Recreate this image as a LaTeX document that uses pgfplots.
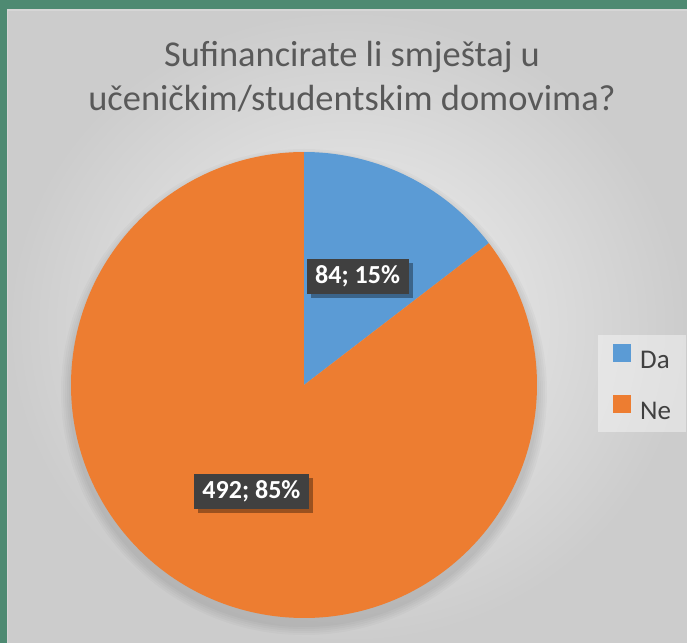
\documentclass[border=0pt]{standalone}
\usepackage{fontspec}
\setmainfont{Carlito}
\usepackage{pgfplots}
\usepackage{pgfplotstable}
\pgfplotsset{compat=1.18}
\usetikzlibrary{shadows}

\definecolor{frame}{HTML}{4E8A72}
\definecolor{daBlue}{HTML}{5B9BD5}
\definecolor{neOrange}{HTML}{ED7D31}
\definecolor{lblBg}{HTML}{404040}
\definecolor{titleGray}{HTML}{595959}

% broj odgovora
\pgfplotstableread{
odgovor broj
Da 84
Ne 492
}\piedata

\pgfplotstablegetelem{0}{broj}\of\piedata \let\vda\pgfplotsretval
\pgfplotstablegetelem{1}{broj}\of\piedata \let\vne\pgfplotsretval
\pgfmathsetmacro\total{\vda+\vne}
\pgfmathsetmacro\fda{\vda/\total}
\pgfmathsetmacro\angda{90-360*\fda}
\pgfmathsetmacro\midda{(90+\angda)/2}
\pgfmathsetmacro\midne{(\angda-270)/2}
\pgfmathtruncatemacro\pda{round(100*\fda)}
\pgfmathtruncatemacro\pne{100-\pda}

\tikzset{lbl/.style={fill=lblBg, text=white, font=\bfseries\fontsize{13}{15}\selectfont,
  inner xsep=4.3pt, inner ysep=0pt, minimum height=17.5pt,
  drop shadow={shadow xshift=2pt, shadow yshift=-2pt, opacity=0.35, fill=black}}}

\begin{document}
\begin{tikzpicture}
% okvir i pozadina
\fill[frame] (0,0) rectangle (343.5pt,-321.5pt);
\shade[inner color=white!95!black, outer color=white!80!black] (3.7pt,-5pt) rectangle (343.5pt,-321.5pt);
\draw[white!84!black, line width=0.6pt] (3.7pt,-321.5pt) -- (3.7pt,-5pt) -- (343.5pt,-5pt);

\node[anchor=base, text=titleGray, font=\fontsize{18.2}{22}\selectfont] at (176pt,-33pt) {Sufinancirate li smještaj u};
\node[anchor=base, text=titleGray, font=\fontsize{18.2}{22}\selectfont] at (176pt,-55pt) {učeničkim/studentskim domovima?};

\begin{axis}[
  at={(152pt,-192.5pt)}, anchor=center,
  scale only axis, width=233pt, height=233pt,
  xmin=-1, xmax=1, ymin=-1, ymax=1,
  hide axis, clip=false,
  legend style={at={(1.131,0.609)}, anchor=north west, draw=none,
    fill=white, fill opacity=0.4, text opacity=1,
    inner xsep=7.5pt, inner ysep=4.5pt, row sep=12pt, column sep=4.5pt,
    nodes={inner sep=0pt}, font=\fontsize{13.5}{15}\selectfont, text=lblBg},
  legend cell align=left,
  legend image code/.code={\fill[#1, fill opacity=1] (0pt,0pt) rectangle (8.5pt,8.5pt);},
]
\addlegendimage{daBlue}
\addlegendentry{Da}
\addlegendimage{neOrange}
\addlegendentry{Ne}

% meka sjena ispod kruga
\pgfplotsinvokeforeach{1,2,3,4,5}{
  \fill[black, opacity=0.025] (0,-0.03) circle[radius=116.5pt+#1pt];
}

\fill[daBlue] (0,0) -- (0,1) arc[start angle=90, end angle=\angda, radius=116.5pt] -- cycle;
\fill[neOrange] (0,0) -- ({cos(\angda)},{sin(\angda)}) arc[start angle=\angda, end angle=-270, radius=116.5pt] -- cycle;

\node[lbl] at ({0.52*cos(\midda)},{0.52*sin(\midda)}) {\vda; \pda\%};
\node[lbl] at ({0.51*cos(\midne)},{0.51*sin(\midne)}) {\vne; \pne\%};
\end{axis}
\pgfresetboundingbox
\useasboundingbox (0,0) rectangle (343.5pt,-321.5pt);
\end{tikzpicture}
\end{document}
